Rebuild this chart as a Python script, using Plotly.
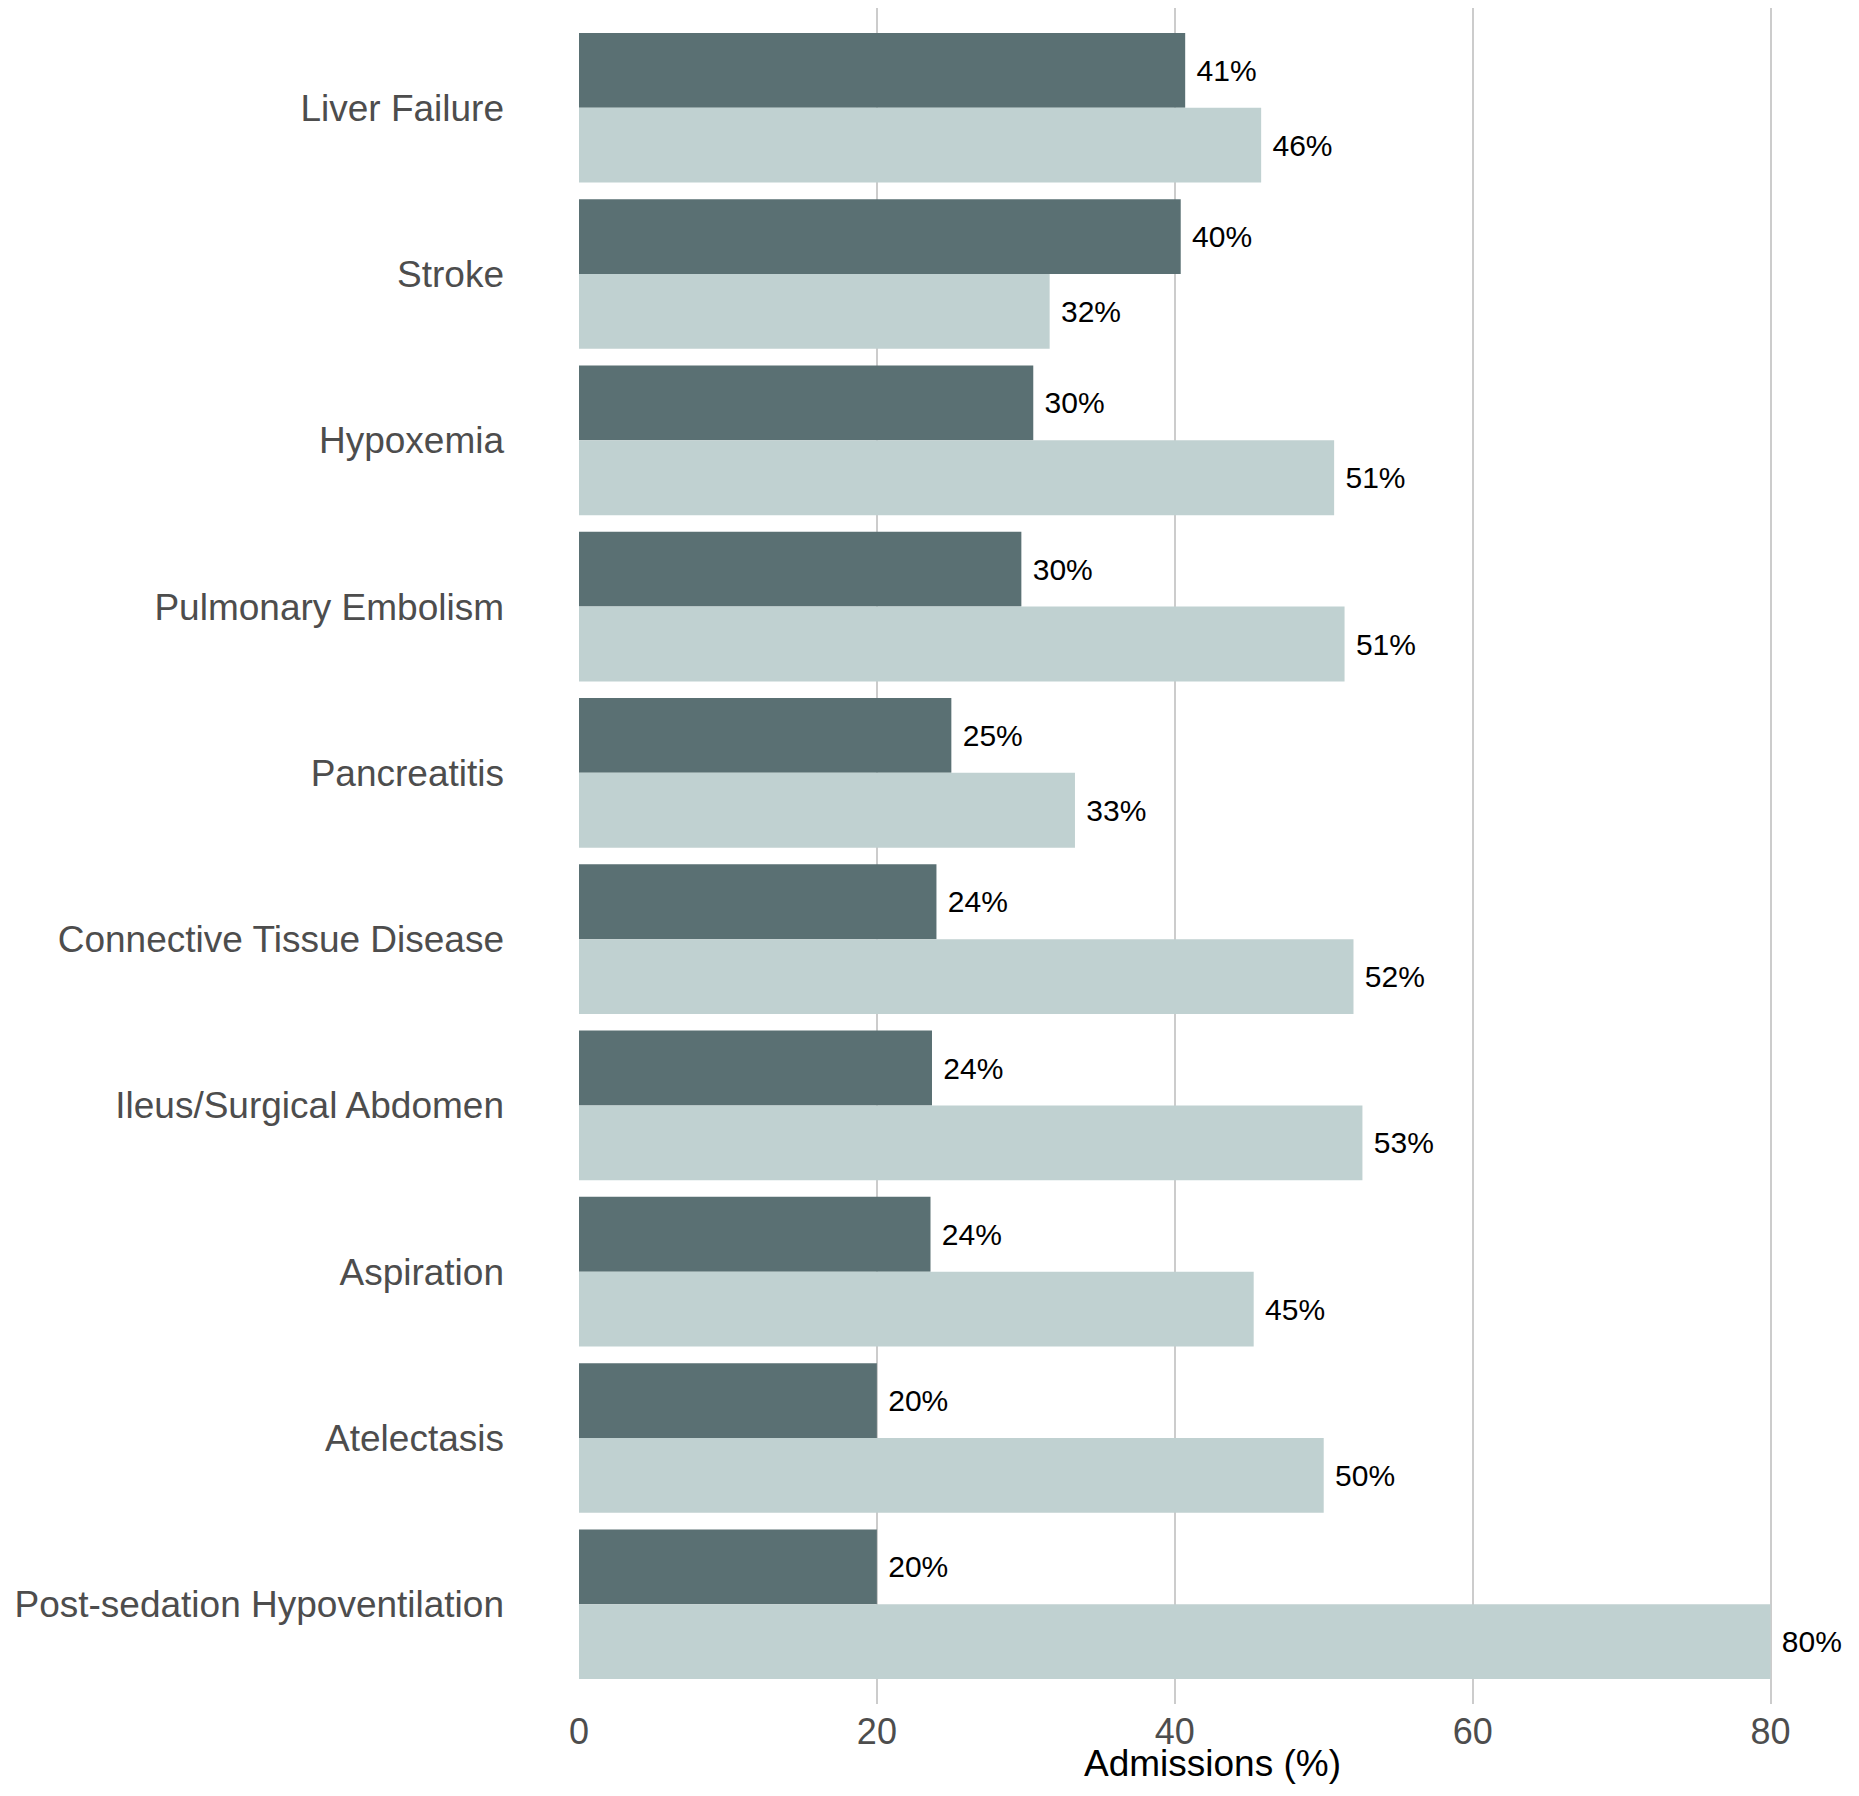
import plotly.graph_objects as go

categories = ["Liver Failure", "Stroke", "Hypoxemia", "Pulmonary Embolism", "Pancreatitis",
              "Connective Tissue Disease", "Ileus/Surgical Abdomen", "Aspiration",
              "Atelectasis", "Post-sedation Hypoventilation"]
dark_values = [40.7, 40.4, 30.5, 29.7, 25.0, 24.0, 23.7, 23.6, 20.0, 20.0]
light_values = [45.8, 31.6, 50.7, 51.4, 33.3, 52.0, 52.6, 45.3, 50.0, 80.0]
x_ticks = [0, 20, 40, 60, 80]
x_title = "Admissions (%)"

DARK = "#5A7073"
LIGHT = "#C0D1D1"
FONT = "Liberation Sans, Arial, Helvetica, sans-serif"

fig = go.Figure()
for vals, col in [(dark_values, DARK), (light_values, LIGHT)]:
    fig.add_trace(go.Bar(
        y=categories, x=vals, orientation="h",
        marker=dict(color=col, line=dict(width=0)),
        text=[f"\u00a0{round(v):.0f}%" for v in vals],
        textposition="outside", cliponaxis=False, constraintext="none",
        textfont=dict(family=FONT, size=30, color="black"),
        showlegend=False,
    ))

# page body has an 8px default margin; size the figure to fit the window
fig.update_layout(
    width=1843, height=1780,
    margin=dict(l=571, r=6, t=0, b=84),
    paper_bgcolor="white", plot_bgcolor="white",
    barmode="group", bargap=0.1, bargroupgap=0,
    font=dict(family=FONT),
)
fig.add_annotation(
    text=x_title, xref="paper", yref="paper", x=0.5, y=0,
    xanchor="center", yanchor="middle", yshift=-59, showarrow=False,
    font=dict(family=FONT, size=37, color="black"),
)
fig.update_xaxes(
    range=[0, 85], tickvals=x_ticks, showgrid=True, gridcolor="#CCCCCC", gridwidth=2.4,
    zeroline=False, showline=False, ticks="", ticklabelstandoff=3, automargin=False,
    tickfont=dict(size=36, color="#4D4D4D"),
)
fig.update_yaxes(
    autorange=False, range=[9.6, -0.6], categoryorder="array", categoryarray=categories,
    showgrid=False, zeroline=False, showline=False, ticks="",
    tickfont=dict(size=37, color="#4D4D4D"), ticklabelstandoff=74,
)
fig.write_html("out.html")
